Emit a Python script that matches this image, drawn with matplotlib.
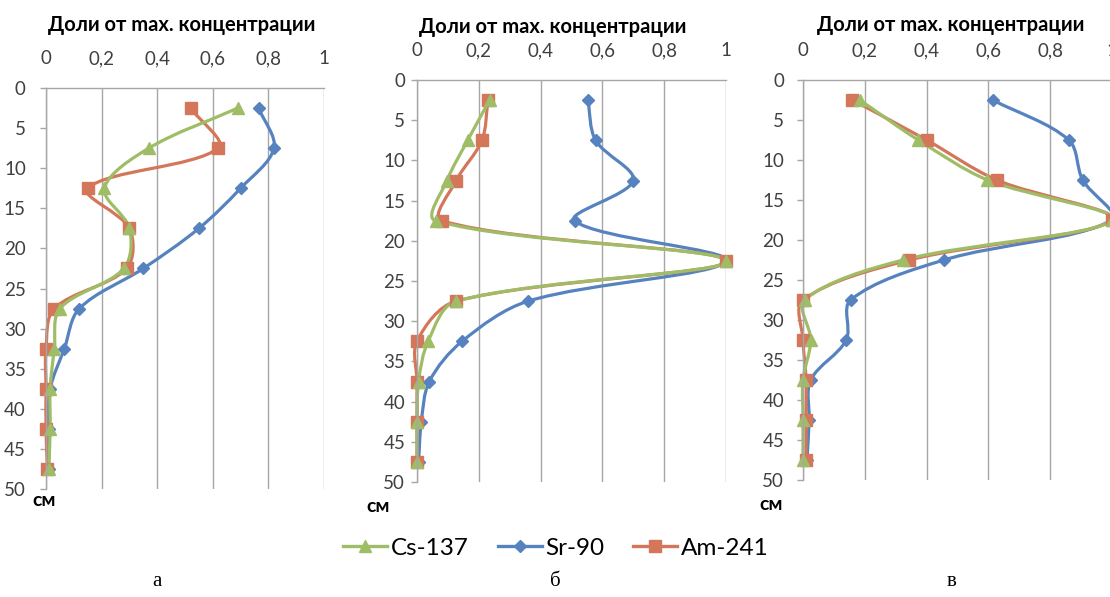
import numpy as np
import matplotlib
matplotlib.use("Agg")
import matplotlib.pyplot as plt
from matplotlib.path import Path
from matplotlib.patches import PathPatch
from matplotlib.lines import Line2D

# глубина отбора, см (середины слоёв по 5 см)
depth = [2.5, 7.5, 12.5, 17.5, 22.5, 27.5, 32.5, 37.5, 42.5, 47.5]

# доли от максимальной концентрации, разрез "а"
cs_a = [0.69, 0.37, 0.21, 0.30, 0.28, 0.05, 0.03, 0.015, 0.015, 0.01]
sr_a = [0.765, 0.82, 0.70, 0.55, 0.35, 0.12, 0.066, 0.015, 0.01, 0.01]
am_a = [0.52, 0.62, 0.15, 0.30, 0.29, 0.03, 0.0, 0.0, 0.0, 0.005]

# разрез "б"
cs_b = [0.235, 0.164, 0.097, 0.06, 1.0, 0.127, 0.036, 0.005, 0.0, 0.0]
sr_b = [0.553, 0.578, 0.70, 0.51, 1.0, 0.36, 0.146, 0.04, 0.014, 0.005]
am_b = [0.23, 0.21, 0.127, 0.08, 1.0, 0.127, 0.0, 0.0, 0.0, 0.0]

# разрез "в"
cs_c = [0.184, 0.373, 0.597, 1.0, 0.324, 0.005, 0.025, 0.0, 0.0, 0.0]
sr_c = [0.614, 0.86, 0.905, 1.0, 0.456, 0.154, 0.14, 0.025, 0.02, 0.013]
am_c = [0.16, 0.40, 0.627, 1.0, 0.344, 0.0, 0.0, 0.01, 0.01, 0.01]

x_ticks = [0, 0.2, 0.4, 0.6, 0.8, 1]
x_labels = ["0", "0,2", "0,4", "0,6", "0,8", "1"]
y_ticks = list(range(0, 55, 5))

GREEN = "#9fbd66"
BLUE = "#5683bf"
RED = "#d4765a"
GRID = "#a6a6a6"
FONT = "Lato"


def smooth_path(ax, x, y):
    # сглаженная линия через точки (кривые Безье, как в Excel);
    # касательные считаются в экранных координатах
    to_disp = ax.transData
    pts = to_disp.transform(np.column_stack([x, y]).astype(float))
    n = len(pts)
    c_in = [None] * n
    c_out = [None] * n
    for i in range(n):
        prev = pts[i - 1] if i > 0 else pts[i]
        nxt = pts[i + 1] if i < n - 1 else pts[i]
        d_prev = np.hypot(*(pts[i] - prev))
        d_next = np.hypot(*(nxt - pts[i]))
        tot = d_prev + d_next
        tang = nxt - prev
        c_in[i] = pts[i] - tang * (d_prev / tot) / 3 if tot else pts[i]
        c_out[i] = pts[i] + tang * (d_next / tot) / 3 if tot else pts[i]
    verts = [pts[0]]
    codes = [Path.MOVETO]
    for i in range(n - 1):
        verts += [c_out[i], c_in[i + 1], pts[i + 1]]
        codes += [Path.CURVE4] * 3
    verts = to_disp.inverted().transform(np.array(verts))
    return Path(verts, codes)


def draw_series(ax, vals, color, marker, ms):
    patch = PathPatch(smooth_path(ax, vals, depth), fill=False, edgecolor=color,
                      lw=2.3, capstyle="round", joinstyle="round", clip_on=False)
    ax.add_patch(patch)
    ax.plot(vals, depth, ls="none", marker=marker, ms=ms, color=color,
            mec=color, clip_on=False)


fig = plt.figure(figsize=(11.1, 5.97), dpi=100)

W, H = 1110, 597
boxes = [(46, 324, 88, 489), (417, 726, 80, 482), (803, 1112, 80, 480)]
panels = [(cs_a, sr_a, am_a), (cs_b, sr_b, am_b), (cs_c, sr_c, am_c)]
title_pos = [(182, 25), (553, 27), (951, 25)]
cm_pos = [(44, 500), (378, 506), (771, 504)]
y_pads = [10, 4, 9]
letters = ["а", "б", "в"]
letter_x = [157, 555, 952]

for k in range(3):
    l, r, t, b = boxes[k]
    cs, sr, am = panels[k]
    ax = fig.add_axes([l / W, 1 - b / H, (r - l) / W, (b - t) / H])
    ax.set_xlim(0, 1)
    ax.set_ylim(50, 0)
    ax.xaxis.tick_top()
    ax.set_xticks(x_ticks)
    ax.set_xticklabels(x_labels)
    ax.set_yticks(y_ticks)
    ax.tick_params(axis="x", length=0, pad=15, labelsize=13.5, labelcolor="#404040")
    ax.tick_params(axis="y", length=4.5, width=1, color=GRID, pad=y_pads[k],
                   labelsize=13.5, labelcolor="#404040")
    for lab in ax.get_xticklabels() + ax.get_yticklabels():
        lab.set_fontfamily(FONT)
    for side in ["right", "bottom"]:
        ax.spines[side].set_visible(False)
    for side in ["top", "left"]:
        ax.spines[side].set_color(GRID)
        ax.spines[side].set_linewidth(1)
    ax.grid(axis="x", color=GRID, lw=1)
    ax.set_axisbelow(True)
    ax.patch.set_alpha(0)

    draw_series(ax, sr, BLUE, "D", 6)
    draw_series(ax, am, RED, "s", 8)
    draw_series(ax, cs, GREEN, "^", 8)

    tx, ty = title_pos[k]
    fig.text(tx / W, 1 - ty / H, "Доли от max. концентрации", ha="center",
             va="center", fontsize=14.5, fontweight="bold", family=FONT)
    cx, cy = cm_pos[k]
    fig.text(cx / W, 1 - cy / H, "см", ha="center", va="center",
             fontsize=14, fontweight="bold", family=FONT)
    fig.text(letter_x[k] / W, 1 - 582 / H, letters[k],
             ha="center", va="center", fontsize=15, family="Liberation Serif")

handles = [
    Line2D([], [], color=GREEN, lw=2.4, marker="^", ms=8),
    Line2D([], [], color=BLUE, lw=2.4, marker="D", ms=6),
    Line2D([], [], color=RED, lw=2.4, marker="s", ms=8),
]
fig.legend(handles, ["Cs-137", "Sr-90", "Am-241"], loc="center",
           bbox_to_anchor=(556 / W, 1 - 548 / H), ncol=3, frameon=False,
           handlelength=1.8, handletextpad=0.15, columnspacing=1.2,
           prop={"family": FONT, "size": 17.5})

fig.savefig("out.png", dpi=100)
